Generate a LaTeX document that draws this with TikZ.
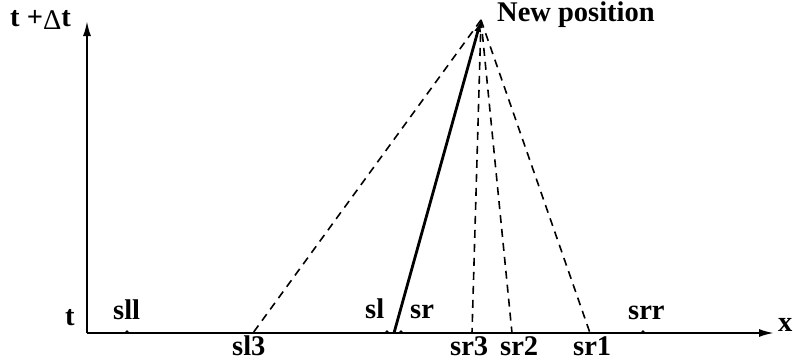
\documentclass[tikz,border=0pt]{standalone}
\usepackage{fontspec}
\setmainfont{Liberation Serif}
\usetikzlibrary{arrows.meta}
\begin{document}
\begin{tikzpicture}[x=1pt,y=-1pt,
  lbl/.style={inner sep=0pt,anchor=base west,font=\fontsize{28.5}{32}\selectfont\bfseries},
  axis/.style={line width=2pt,-{Latex[length=15pt,width=8pt]}},
  dsh/.style={line width=1.6pt,dash pattern=on 8pt off 6pt},
  dot/.style={circle,fill=black,inner sep=0pt,minimum size=3.6pt}]
\useasboundingbox (0,0) rectangle (793,364);
% axes
\coordinate (o) at (87,333);
\coordinate (ytop) at (87,21);
\coordinate (xend) at (774,333);
\draw[axis] (o) -- (ytop);
\draw[axis] (o) -- (xend);
% labels on axes
\node[lbl] (tdt) at (10,27) {t +\raisebox{-2pt}{\mdseries Δ}t};
\node[lbl] (t) at (65,325) {t};
\node[lbl] (x) at (778,331) {x};
% apex
\coordinate (apex) at (481,20);
\node[lbl] (np) at (497,21) {New position};
% axis points
\coordinate (sl3p) at (253,333);
\coordinate (sr3p) at (472,333);
\coordinate (sr2p) at (512,333);
\coordinate (sr1p) at (590,333);
\coordinate (solid) at (394,333);
\node[dot] (sll) at (127,332) {};
\node[dot] (sl) at (387,332) {};
\node[dot] (sr) at (401,332) {};
\node[dot] (srr) at (643,332) {};
% lines
\draw[dsh] (apex) -- (sl3p);
\draw[dsh] (apex) -- (sr3p);
\draw[dsh] (apex) -- (sr2p);
\draw[dsh] (apex) -- (sr1p);
\draw[line width=2.8pt,-{Latex[length=12pt,width=7pt]}] (solid) -- (apex);
% point labels
\node[lbl] (lsll) at (113,319) {sll};
\node[lbl] (lsl) at (365,318) {sl};
\node[lbl] (lsr) at (410,318) {sr};
\node[lbl] (lsrr) at (628,319) {srr};
\node[lbl] (lsl3) at (232,355) {sl3};
\node[lbl] (lsr3) at (450,355) {sr3};
\node[lbl] (lsr2) at (500,355) {sr2};
\node[lbl] (lsr1) at (573,355) {sr1};
\end{tikzpicture}
\end{document}
